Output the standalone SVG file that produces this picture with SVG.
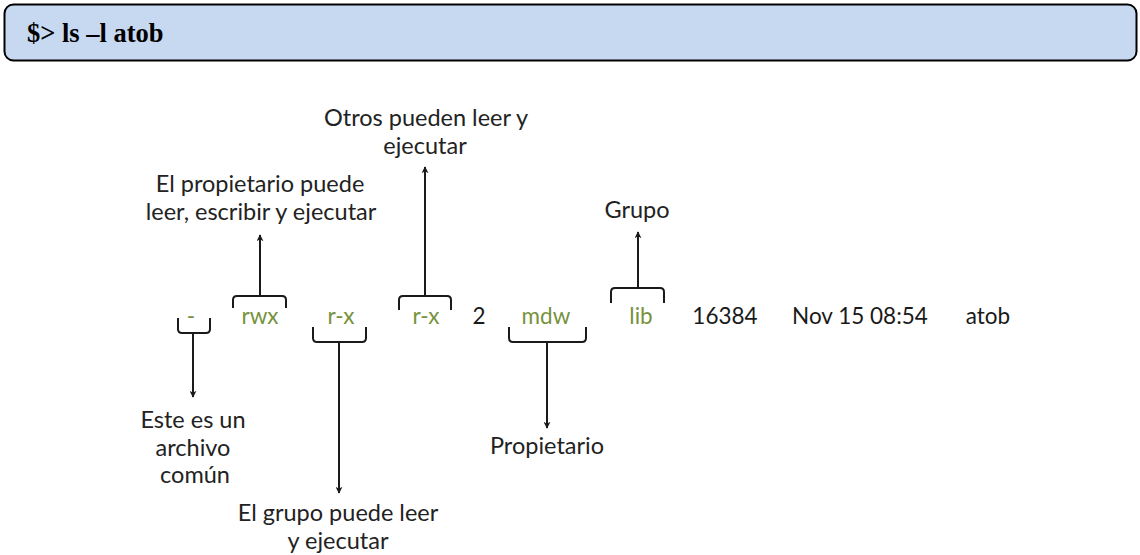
<svg xmlns="http://www.w3.org/2000/svg" width="1140" height="555" viewBox="0 0 1140 555">
  <defs>
    <marker id="arrow" viewBox="0 0 10 10" refX="9" refY="5" markerWidth="7" markerHeight="7" markerUnits="userSpaceOnUse" orient="auto">
      <path d="M0,0 L10,5 L0,10 L3,5 Z" fill="#1a1a1a"/>
    </marker>
    <style>
      .cmd { font-family: "Liberation Serif", "Times New Roman", serif; font-weight: bold; font-size: 26.5px; fill: #000; }
      .field { font-family: Lato, "Open Sans", sans-serif; font-size: 22.5px; text-anchor: middle; fill: #1a1a1a; }
      .perm { fill: #76923c; }
      .label { font-family: Lato, "Open Sans", sans-serif; font-size: 23.5px; text-anchor: middle; fill: #222; }
      .brace { fill: none; stroke: #1a1a1a; stroke-width: 2; stroke-linejoin: round; }
      .stem { fill: none; stroke: #1a1a1a; stroke-width: 2; marker-end: url(#arrow); }
    </style>
  </defs>

  <!-- command banner -->
  <g id="command">
    <rect x="4.5" y="4.5" width="1132" height="56" rx="9" ry="9" fill="#c6d9f0" stroke="#000" stroke-width="2"/>
    <text class="cmd" x="27" y="42">$&gt; ls –l atob</text>
  </g>

  <!-- fields of the listing line -->
  <g id="field-type"><text class="field perm" x="191" y="324">-</text></g>
  <g id="field-owner-perm"><text class="field perm" x="260" y="324">rwx</text></g>
  <g id="field-group-perm"><text class="field perm" x="341" y="324">r-x</text></g>
  <g id="field-other-perm"><text class="field perm" x="426" y="324">r-x</text></g>
  <g id="field-links"><text class="field" x="479" y="324">2</text></g>
  <g id="field-owner"><text class="field perm" x="546" y="324">mdw</text></g>
  <g id="field-group"><text class="field perm" x="641" y="324">lib</text></g>
  <g id="field-size"><text class="field" x="725" y="324">16384</text></g>
  <g id="field-date"><text class="field" x="860" y="324">Nov 15 08:54</text></g>
  <g id="field-name"><text class="field" x="988" y="324">atob</text></g>

  <!-- explanations -->
  <g id="label-type">
    <text class="label" x="193" y="428">Este es un</text>
    <text class="label" x="193" y="456">archivo</text>
    <text class="label" x="195" y="483">común</text>
  </g>
  <g id="label-owner-perm">
    <text class="label" x="260" y="192">El propietario puede</text>
    <text class="label" x="261" y="220">leer, escribir y ejecutar</text>
  </g>
  <g id="label-group-perm">
    <text class="label" x="338" y="521">El grupo puede leer</text>
    <text class="label" x="338" y="549">y ejecutar</text>
  </g>
  <g id="label-other-perm">
    <text class="label" x="426" y="126">Otros pueden leer y</text>
    <text class="label" x="425" y="154">ejecutar</text>
  </g>
  <g id="label-owner">
    <text class="label" x="547" y="454">Propietario</text>
  </g>
  <g id="label-group">
    <text class="label" x="637" y="218">Grupo</text>
  </g>

  <!-- braces and arrows -->
  <g id="connectors">
    <!-- braces below a field -->
    <path class="brace" d="M178,318 L178,329 Q178,333 182,333 L206,333 Q210,333 210,329 L210,318"/>
    <path class="brace" d="M313,327 L313,338 Q313,342 317,342 L362,342 Q366,342 366,338 L366,327"/>
    <path class="brace" d="M509,327 L509,338 Q509,342 513,342 L582,342 Q586,342 586,338 L586,327"/>
    <!-- braces above a field -->
    <path class="brace" d="M233,308 L233,300 Q233,296 237,296 L282,296 Q286,296 286,300 L286,308"/>
    <path class="brace" d="M399,310 L399,300 Q399,296 403,296 L447,296 Q451,296 451,300 L451,310"/>
    <path class="brace" d="M611,303 L611,292 Q611,288 615,288 L660,288 Q664,288 664,292 L664,303"/>
    <!-- arrows -->
    <line class="stem" x1="193" y1="333" x2="193" y2="397"/>
    <line class="stem" x1="339" y1="342" x2="339" y2="493"/>
    <line class="stem" x1="547" y1="342" x2="547" y2="428"/>
    <line class="stem" x1="260" y1="296" x2="260" y2="235"/>
    <line class="stem" x1="425" y1="296" x2="425" y2="167"/>
    <line class="stem" x1="638" y1="288" x2="638" y2="232"/>
  </g>
</svg>
